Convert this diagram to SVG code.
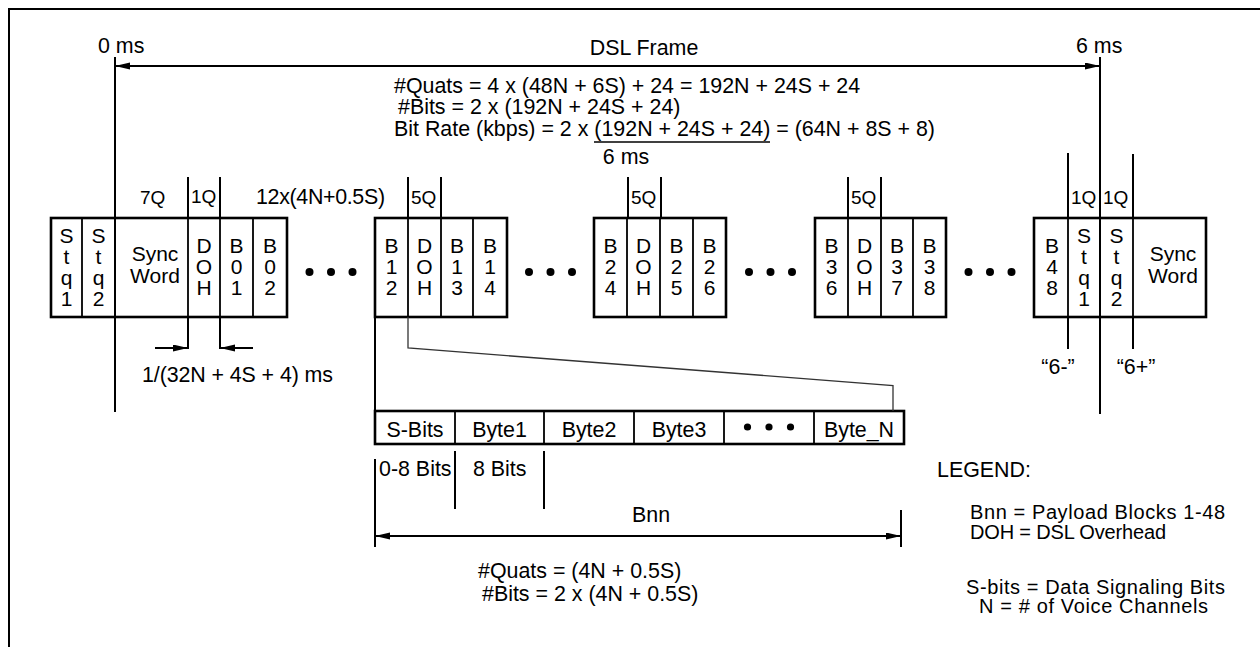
<svg xmlns="http://www.w3.org/2000/svg" width="1260" height="647" viewBox="0 0 1260 647">
<style>
text{font-family:"Liberation Sans",Arial,sans-serif;font-size:21.4px;fill:#000}
.m{text-anchor:middle}
.c{text-anchor:middle;font-size:21px}
.q{font-size:19px}
.lg{font-size:20px}
.box{fill:#fff;stroke:#000;stroke-width:2.6}
.div{stroke:#000;stroke-width:1.8;fill:none}
.ln{stroke:#000;stroke-width:2;fill:none}
.thin{stroke:#333;stroke-width:1.3;fill:none}
.dot{fill:#000}
</style>
<defs>
<marker id="ah" markerWidth="15" markerHeight="8" refX="15" refY="3.5" orient="auto-start-reverse" markerUnits="userSpaceOnUse">
<path d="M0,0 L15,3.5 L0,7 z" fill="#000"/>
</marker>
</defs>
<rect width="1260" height="647" fill="#fff"/>
<g id="border">
<path d="M9,647 L9,9 L1260,9" class="ln" stroke-width="2.5"/>
</g>

<g id="frame-header">
<text x="98" y="53">0 ms</text>
<text x="644" y="55" class="m">DSL Frame</text>
<text x="1076" y="53">6 ms</text>
<text x="394" y="92.5">#Quats = 4 x (48N + 6S) + 24 = 192N + 24S + 24</text>
<text x="398" y="114">#Bits = 2 x (192N + 24S + 24)</text>
<text x="394" y="135.5">Bit Rate (kbps) = 2 x (192N + 24S + 24) = (64N + 8S + 8)</text>
<line x1="594" y1="142" x2="770" y2="142" stroke="#000" stroke-width="1.5"/>
<text x="626" y="164" class="m">6 ms</text>
</g>

<g id="labels-above">
<text x="140" y="204" class="q">7Q</text>
<text x="191" y="203" class="q">1Q</text>
<text x="256" y="204" textLength="129">12x(4N+0.5S)</text>
<text x="411" y="204" class="q">5Q</text>
<text x="631" y="204" class="q">5Q</text>
<text x="851" y="204" class="q">5Q</text>
<text x="1071" y="204" class="q">1Q</text>
<text x="1103" y="204" class="q">1Q</text>
</g>

<g id="block1">
<rect x="51" y="218" width="236" height="99" class="box"/>
<path d="M82,218V317M115,218V317M188,218V317M220,218V317M253,218V317" class="div"/>
<text class="c"><tspan x="66.5" y="243">S</tspan><tspan x="66.5" y="264">t</tspan><tspan x="66.5" y="285">q</tspan><tspan x="66.5" y="306">1</tspan></text>
<text class="c"><tspan x="98.5" y="243">S</tspan><tspan x="98.5" y="264">t</tspan><tspan x="98.5" y="285">q</tspan><tspan x="98.5" y="306">2</tspan></text>
<text class="c"><tspan x="155" y="261">Sync</tspan><tspan x="155" y="283">Word</tspan></text>
<text class="c"><tspan x="204" y="253">D</tspan><tspan x="204" y="274">O</tspan><tspan x="204" y="295">H</tspan></text>
<text class="c"><tspan x="236.5" y="253">B</tspan><tspan x="236.5" y="274">0</tspan><tspan x="236.5" y="295">1</tspan></text>
<text class="c"><tspan x="270" y="253">B</tspan><tspan x="270" y="274">0</tspan><tspan x="270" y="295">2</tspan></text>
</g>

<g id="dots1">
<circle cx="309.5" cy="272" r="4" class="dot"/><circle cx="331" cy="272" r="4" class="dot"/><circle cx="352.5" cy="272" r="4" class="dot"/>
</g>

<g id="block2">
<rect x="375" y="218" width="132" height="99" class="box"/>
<path d="M408,218V317M441,218V317M473,218V317" class="div"/>
<text class="c"><tspan x="391.5" y="253">B</tspan><tspan x="391.5" y="274">1</tspan><tspan x="391.5" y="295">2</tspan></text>
<text class="c"><tspan x="424.5" y="253">D</tspan><tspan x="424.5" y="274">O</tspan><tspan x="424.5" y="295">H</tspan></text>
<text class="c"><tspan x="457" y="253">B</tspan><tspan x="457" y="274">1</tspan><tspan x="457" y="295">3</tspan></text>
<text class="c"><tspan x="490" y="253">B</tspan><tspan x="490" y="274">1</tspan><tspan x="490" y="295">4</tspan></text>
</g>

<g id="dots2">
<circle cx="529" cy="272" r="4" class="dot"/><circle cx="550.5" cy="272" r="4" class="dot"/><circle cx="572" cy="272" r="4" class="dot"/>
</g>

<g id="block3">
<rect x="594" y="218" width="132" height="99" class="box"/>
<path d="M627,218V317M660,218V317M693,218V317" class="div"/>
<text class="c"><tspan x="610.5" y="253">B</tspan><tspan x="610.5" y="274">2</tspan><tspan x="610.5" y="295">4</tspan></text>
<text class="c"><tspan x="643.5" y="253">D</tspan><tspan x="643.5" y="274">O</tspan><tspan x="643.5" y="295">H</tspan></text>
<text class="c"><tspan x="676.5" y="253">B</tspan><tspan x="676.5" y="274">2</tspan><tspan x="676.5" y="295">5</tspan></text>
<text class="c"><tspan x="709.5" y="253">B</tspan><tspan x="709.5" y="274">2</tspan><tspan x="709.5" y="295">6</tspan></text>
</g>

<g id="dots3">
<circle cx="749" cy="272" r="4" class="dot"/><circle cx="770.5" cy="272" r="4" class="dot"/><circle cx="792" cy="272" r="4" class="dot"/>
</g>

<g id="block4">
<rect x="815" y="218" width="131" height="99" class="box"/>
<path d="M848,218V317M881,218V317M913,218V317" class="div"/>
<text class="c"><tspan x="831.5" y="253">B</tspan><tspan x="831.5" y="274">3</tspan><tspan x="831.5" y="295">6</tspan></text>
<text class="c"><tspan x="864.5" y="253">D</tspan><tspan x="864.5" y="274">O</tspan><tspan x="864.5" y="295">H</tspan></text>
<text class="c"><tspan x="897" y="253">B</tspan><tspan x="897" y="274">3</tspan><tspan x="897" y="295">7</tspan></text>
<text class="c"><tspan x="929.5" y="253">B</tspan><tspan x="929.5" y="274">3</tspan><tspan x="929.5" y="295">8</tspan></text>
</g>

<g id="dots4">
<circle cx="968.5" cy="272" r="4" class="dot"/><circle cx="990" cy="272" r="4" class="dot"/><circle cx="1011.5" cy="272" r="4" class="dot"/>
</g>

<g id="block5">
<rect x="1034" y="218" width="172" height="99" class="box"/>
<path d="M1068,218V317M1100,218V317M1133,218V317" class="div"/>
<text class="c"><tspan x="1052" y="253">B</tspan><tspan x="1052" y="274">4</tspan><tspan x="1052" y="295">8</tspan></text>
<text class="c"><tspan x="1084" y="243">S</tspan><tspan x="1084" y="264">t</tspan><tspan x="1084" y="285">q</tspan><tspan x="1084" y="306">1</tspan></text>
<text class="c"><tspan x="1116.5" y="243">S</tspan><tspan x="1116.5" y="264">t</tspan><tspan x="1116.5" y="285">q</tspan><tspan x="1116.5" y="306">2</tspan></text>
<text class="c"><tspan x="1173" y="261">Sync</tspan><tspan x="1173" y="283">Word</tspan></text>
</g>

<g id="bnn-block">
<rect x="375" y="411" width="529" height="33" class="box" stroke-width="2.4"/>
<path d="M455,411V444M544,411V444M634,411V444M724,411V444M814,411V444" class="div" stroke-width="2"/>
<text x="415" y="437" class="m">S-Bits</text>
<text x="499.5" y="437" class="m">Byte1</text>
<text x="589" y="437" class="m">Byte2</text>
<text x="679" y="437" class="m">Byte3</text>
<circle cx="747.5" cy="427" r="3.6" class="dot"/><circle cx="769" cy="427" r="3.6" class="dot"/><circle cx="790.5" cy="427" r="3.6" class="dot"/>
<text x="859" y="437" class="m">Byte_N</text>
</g>

<g id="connectors">
<line x1="115" y1="57" x2="115" y2="412" class="ln"/>
<line x1="1100" y1="57" x2="1100" y2="414" class="ln"/>
<line x1="115" y1="66" x2="1100" y2="66" class="ln" marker-start="url(#ah)" marker-end="url(#ah)"/>
<path d="M188,177V218M220,177V218M408,177V218M441,177V218M628,177V218M661,177V218M848,177V218M881,177V218M1068,153V218M1133,154V218" class="ln"/>
<path d="M188,317V349M220,317V349" class="ln"/>
<line x1="155" y1="348" x2="188" y2="348" class="ln" marker-end="url(#ah)"/>
<line x1="253" y1="348" x2="220" y2="348" class="ln" marker-end="url(#ah)"/>
<path d="M1068,317V349M1133,317V349" class="ln"/>
<line x1="375" y1="317" x2="375" y2="411" class="ln"/>
<path d="M408,317V348L893,385.5V411" class="thin"/>
<path d="M375,459V547M455,451V509M544,451V509M901,510V547" class="ln"/>
<line x1="375" y1="536" x2="901" y2="536" class="ln" marker-start="url(#ah)" marker-end="url(#ah)"/>
</g>

<g id="annotations">
<text x="142" y="382" textLength="191">1/(32N + 4S + 4) ms</text>
<text x="1058" y="374" class="m">“6-”</text>
<text x="1136" y="374" class="m">“6+”</text>
<text x="379" y="476">0-8 Bits</text>
<text x="473" y="476">8 Bits</text>
<text x="651" y="522" class="m">Bnn</text>
<text x="478" y="578">#Quats = (4N + 0.5S)</text>
<text x="482" y="601">#Bits = 2 x (4N + 0.5S)</text>
</g>

<g id="legend">
<text x="937" y="477">LEGEND:</text>
<text x="970" y="519" class="lg" textLength="255">Bnn = Payload Blocks 1-48</text>
<text x="970" y="538.5" class="lg" textLength="196">DOH = DSL Overhead</text>
<text x="966" y="593.5" class="lg" textLength="259">S-bits = Data Signaling Bits</text>
<text x="979" y="613" class="lg" textLength="229">N = # of Voice Channels</text>
</g>
</svg>
